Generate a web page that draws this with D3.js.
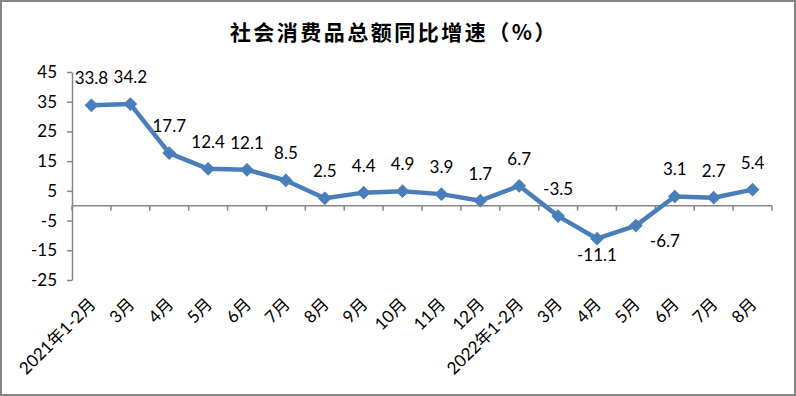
<!DOCTYPE html>
<html lang="zh">

<head>
  <meta charset="UTF-8">
  <script src="https://d3js.org/d3.v7.min.js"></script>
  <style>
    body { margin: 0; background: #fff; }
    svg text { font-family: Lato, "Noto Sans CJK SC", sans-serif; fill: #000; }
  </style>
</head>

<body>
  <svg id="chart" width="796" height="396"></svg>

  <script>
    // data
    const months = ["2021年1-2月", "3月", "4月", "5月", "6月", "7月", "8月", "9月", "10月", "11月", "12月",
      "2022年1-2月", "3月", "4月", "5月", "6月", "7月", "8月"];
    const growth = [33.8, 34.2, 17.7, 12.4, 12.1, 8.5, 2.5, 4.4, 4.9, 3.9, 1.7, 6.7, -3.5, -11.1, -6.7, 3.1, 2.7, 5.4];
    const yTicks = [-25, -15, -5, 5, 15, 25, 35, 45];
    const title = "社会消费品总额同比增速（%）";

    const svg = d3.select("#chart");
    const width = +svg.attr("width");
    const height = +svg.attr("height");
    const plot = { left: 72, right: 772, top: 72, bottom: 280 };
    const blue = "#4a7ebb";
    const axisGray = "#868686";

    // plain hyphen for negatives, like the original
    const locale = d3.formatLocale({ decimal: ".", thousands: ",", grouping: [3], currency: ["", ""], minus: "-" });
    const fmtValue = locale.format(".1f");
    const fmtTick = locale.format("d");

    // outer frame
    svg.append("rect")
      .attr("x", 1).attr("y", 1)
      .attr("width", width - 2).attr("height", height - 2)
      .attr("fill", "#fff")
      .attr("stroke", axisGray)
      .attr("stroke-width", 2);

    svg.append("text")
      .attr("x", 394)
      .attr("y", 33)
      .attr("dy", "0.35em")
      .attr("text-anchor", "middle")
      .style("font-family", "'Noto Sans CJK SC', sans-serif")
      .style("font-size", "21px")
      .style("font-weight", "bold")
      .style("letter-spacing", "2.5px")
      .text(title);

    // index positions via band scale, keys are indices since month names repeat
    const x = d3.scaleBand()
      .domain(d3.range(months.length))
      .range([plot.left, plot.right])
      .padding(0);
    const y = d3.scaleLinear()
      .domain([-25, 45])
      .range([plot.bottom, plot.top]);
    const cx = i => x(i) + x.bandwidth() / 2;

    // y axis
    const yAxis = svg.append("g")
      .attr("transform", `translate(${plot.left},0)`)
      .call(d3.axisLeft(y).tickValues(yTicks).tickFormat(fmtTick)
        .tickSize(5).tickPadding(10).tickSizeOuter(0));
    yAxis.select(".domain").attr("stroke", axisGray).attr("stroke-width", 1.5);
    yAxis.selectAll(".tick line").attr("stroke", axisGray).attr("stroke-width", 1.5);
    yAxis.selectAll(".tick text")
      .style("font-family", "Lato, sans-serif")
      .style("font-size", "17px")
      .attr("fill", "#000");

    // horizontal category axis at zero
    const xAxis = svg.append("g")
      .attr("transform", `translate(0,${y(0)})`);
    xAxis.append("line")
      .attr("x1", plot.left).attr("x2", plot.right)
      .attr("stroke", axisGray).attr("stroke-width", 1.5);
    xAxis.selectAll("line.tick")
      .data(d3.range(months.length + 1))
      .join("line")
      .attr("class", "tick")
      .attr("x1", i => plot.left + i * x.step())
      .attr("x2", i => plot.left + i * x.step())
      .attr("y1", 0).attr("y2", 5)
      .attr("stroke", axisGray).attr("stroke-width", 1.5);

    // category labels below the plot, rotated
    svg.selectAll("text.month")
      .data(months)
      .join("text")
      .attr("class", "month")
      .attr("transform", (d, i) => `translate(${cx(i) + 1},${plot.bottom + 21}) rotate(-45)`)
      .attr("text-anchor", "end")
      .attr("dy", "0.35em")
      .style("font-size", "17px")
      .text(d => d);

    // series line
    const line = d3.line()
      .x((d, i) => cx(i))
      .y(d => y(d));
    svg.append("path")
      .datum(growth)
      .attr("fill", "none")
      .attr("stroke", blue)
      .attr("stroke-width", 4.5)
      .attr("stroke-linejoin", "round")
      .attr("d", line);

    const diamond = d3.symbol().type(d3.symbolSquare).size(76);
    svg.selectAll("path.marker")
      .data(growth)
      .join("path")
      .attr("class", "marker")
      .attr("transform", (d, i) => `translate(${cx(i)},${y(d)}) rotate(45)`)
      .attr("d", diamond)
      .attr("fill", blue)
      .attr("stroke", blue)
      .attr("stroke-width", 1);

    // value labels: above by default, a couple sit below the point
    const labelOffset = i => {
      if (growth[i] < -10) return [0, 16];
      if (growth[i] === -6.7) return [29, 15];
      return [0, -27];
    };
    svg.selectAll("text.value")
      .data(growth)
      .join("text")
      .attr("class", "value")
      .attr("x", (d, i) => cx(i) + labelOffset(i)[0])
      .attr("y", (d, i) => y(d) + labelOffset(i)[1])
      .attr("dy", "0.35em")
      .attr("text-anchor", "middle")
      .style("font-size", "17px")
      .text(d => fmtValue(d));
  </script>
</body>

</html>
